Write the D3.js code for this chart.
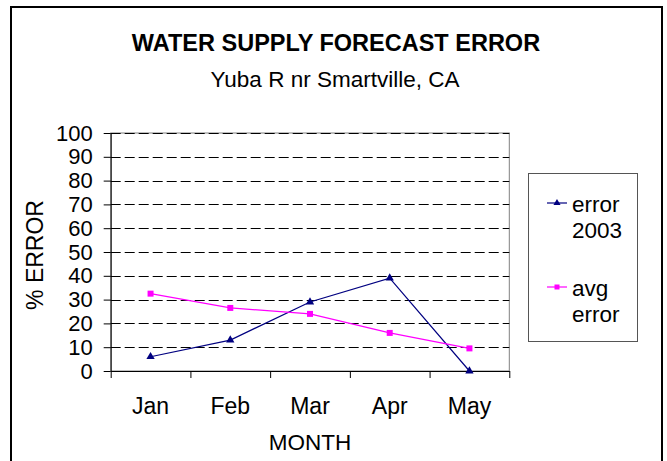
<!DOCTYPE html>
<html>
<head>
<meta charset="utf-8">
<script src="https://cdn.jsdelivr.net/npm/d3@7"></script>
<style>
  html, body { margin: 0; padding: 0; background: #fff; }
  svg { display: block; font-family: "Liberation Sans", Arial, sans-serif; }
</style>
</head>
<body>
<svg id="chart" width="667" height="461"></svg>
<script>
const months = ["Jan", "Feb", "Mar", "Apr", "May"];
const error2003 = [6, 13, 29, 39, 0];
const avgError = [32.5, 26.5, 24, 16, 9.5];
const yTicks = [0, 10, 20, 30, 40, 50, 60, 70, 80, 90, 100];
const seriesNames = [["error", "2003"], ["avg", "error"]];
const seriesColors = ["#000080", "#FF00FF"];

const svg = d3.select("#chart");
const L = 110.7, R = 509.3, T = 133, B = 371;

// outer frame
svg.append("rect").attr("x", 11).attr("y", 7).attr("width", 651).attr("height", 470)
  .attr("fill", "#fff").attr("stroke", "#000").attr("stroke-width", 2);

const x = d3.scaleBand().domain(months).range([L, R]).padding(0);
const xb = d3.scaleLinear().domain([0, months.length]).range([L, R]);
const y = d3.scaleLinear().domain([0, 100]).range([B, T]);

// plot area border
svg.append("rect").attr("x", L).attr("y", T).attr("width", R - L).attr("height", B - T)
  .attr("fill", "none").attr("stroke", "#808080").attr("stroke-width", 1);

// gridlines
svg.append("g").selectAll("line").data(yTicks.filter(d => d > 0)).join("line")
  .attr("x1", L).attr("x2", R)
  .attr("y1", d => Math.round(y(d)) + 0.5).attr("y2", d => Math.round(y(d)) + 0.5)
  .attr("stroke", "#000").attr("stroke-width", 1).attr("stroke-dasharray", "10,4");

// y axis
const yAxis = svg.append("g").attr("transform", `translate(${L},0)`)
  .call(d3.axisLeft(y).tickValues(yTicks).tickSize(7).tickPadding(11).tickSizeOuter(0));
yAxis.selectAll("text").attr("font-size", 22).attr("fill", "#000")
  .attr("font-family", "Liberation Sans, Arial, sans-serif");
yAxis.selectAll("line, path").attr("stroke", "#000");

// x axis ticks at boundaries
const xAxis = svg.append("g").attr("transform", `translate(0,${B})`)
  .call(d3.axisBottom(xb).tickValues(d3.range(months.length + 1)).tickFormat("").tickSize(7).tickSizeOuter(0));
xAxis.selectAll("line, path").attr("stroke", "#000");

// x labels
const xLab = svg.append("g").attr("transform", `translate(0,${B})`)
  .call(d3.axisBottom(x).tickSize(0).tickPadding(27));
xLab.select("path").remove();
xLab.selectAll("text").attr("font-size", 23).attr("fill", "#000")
  .attr("font-family", "Liberation Sans, Arial, sans-serif");

// lines
const line = d3.line().x((d, i) => x(months[i]) + x.bandwidth() / 2).y(d => y(d));
const data = [error2003, avgError];
data.forEach((vals, si) => {
  svg.append("path").datum(vals).attr("d", line)
    .attr("fill", "none").attr("stroke", seriesColors[si]).attr("stroke-width", 1.2);
});

const tri = d3.symbol().type(d3.symbolTriangle).size(30);
const sq = d3.symbol().type(d3.symbolSquare).size(36);
svg.append("g").selectAll("path").data(avgError).join("path")
  .attr("transform", (d, i) => `translate(${x(months[i]) + x.bandwidth() / 2},${y(d)})`)
  .attr("d", sq).attr("fill", seriesColors[1]);
svg.append("g").selectAll("path").data(error2003).join("path")
  .attr("transform", (d, i) => `translate(${x(months[i]) + x.bandwidth() / 2},${y(d)})`)
  .attr("d", tri).attr("fill", seriesColors[0]);

// titles
svg.append("text").attr("x", 336).attr("y", 51).attr("text-anchor", "middle")
  .attr("font-size", 23.5).attr("font-weight", "bold").text("WATER SUPPLY FORECAST ERROR");
svg.append("text").attr("x", 335).attr("y", 87).attr("text-anchor", "middle")
  .attr("font-size", 22.5).text("Yuba R nr Smartville, CA");
svg.append("text").attr("x", 310).attr("y", 450).attr("text-anchor", "middle")
  .attr("font-size", 22.5).text("MONTH");
svg.append("text").attr("transform", "translate(43,255) rotate(-90)").attr("text-anchor", "middle")
  .attr("font-size", 23).text("% ERROR");

// legend
svg.append("rect").attr("x", 528.5).attr("y", 173.5).attr("width", 109).attr("height", 168)
  .attr("fill", "#fff").attr("stroke", "#555").attr("stroke-width", 1);
const legY = [203, 287];
seriesNames.forEach((nm, si) => {
  const g = svg.append("g");
  g.append("line").attr("x1", 547).attr("x2", 567).attr("y1", legY[si]).attr("y2", legY[si])
    .attr("stroke", seriesColors[si]).attr("stroke-width", 1.2);
  g.append("path").attr("transform", `translate(557,${legY[si]})`)
    .attr("d", si === 0 ? d3.symbol().type(d3.symbolTriangle).size(22) : d3.symbol().type(d3.symbolSquare).size(25))
    .attr("fill", seriesColors[si]);
  g.append("text").attr("x", 572).attr("y", legY[si] + 9).attr("font-size", 22.5).text(nm[0]);
  g.append("text").attr("x", 572).attr("y", legY[si] + 35).attr("font-size", 22.5).text(nm[1]);
});
</script>
</body>
</html>
